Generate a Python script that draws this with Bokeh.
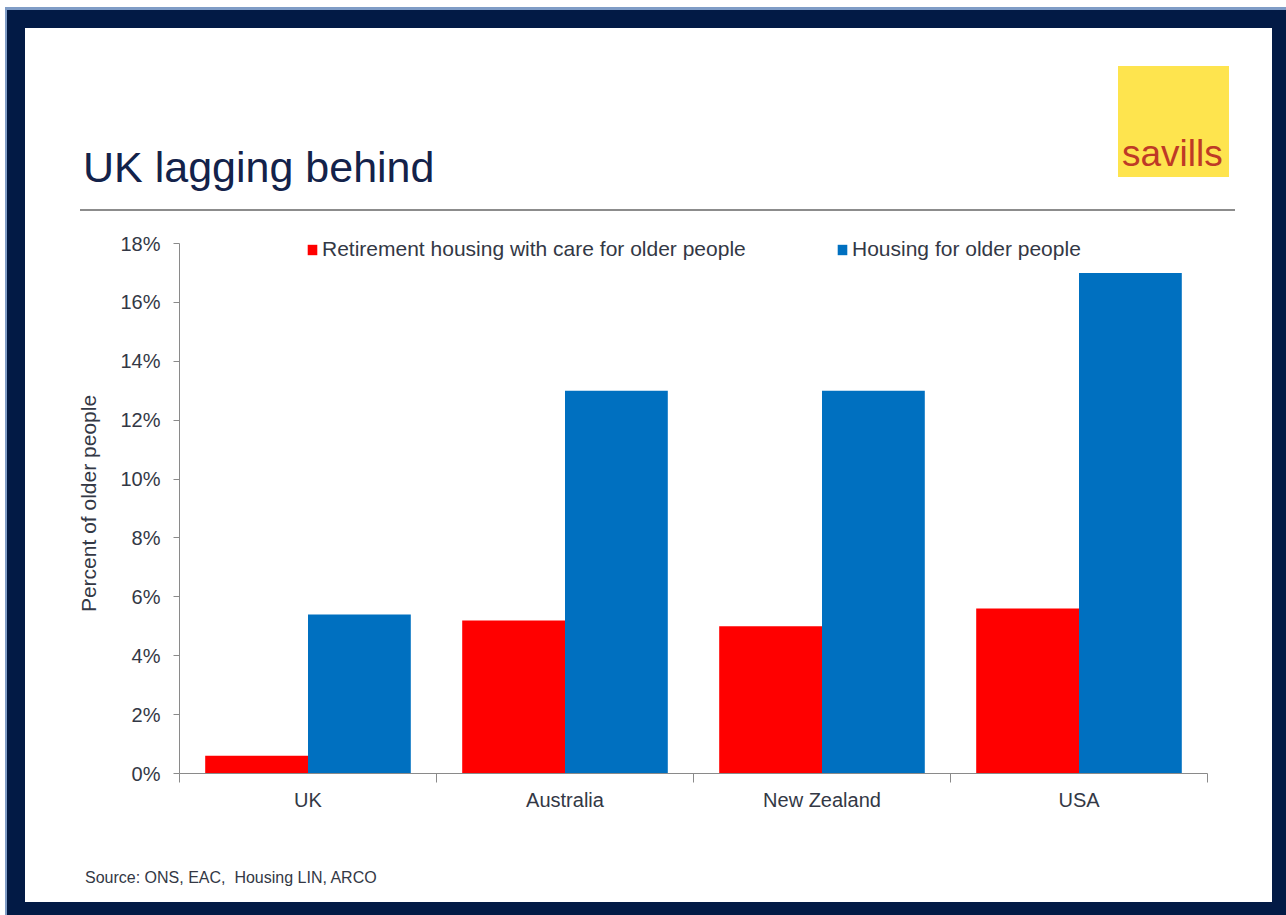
from bokeh.plotting import figure
from bokeh.models import (Range1d, FixedTicker, PrintfTickFormatter, LinearAxis,
                          Legend, LegendItem, ColumnDataSource, Div, Column, Row)
from bokeh.embed import file_html
from bokeh.resources import INLINE

# ---- data ----
categories = ["UK", "Australia", "New Zealand", "USA"]
care_share = [0.6, 5.2, 5.0, 5.6]          # Retirement housing with care for older people (%)
housing_share = [5.4, 13.0, 13.0, 17.0]    # Housing for older people (%)
y_ticks = [0, 2, 4, 6, 8, 10, 12, 14, 16, 18]
series_names = ["Retirement housing with care for older people", "Housing for older people"]
title_text = "UK lagging behind"
source_text = "Source: ONS, EAC,&nbsp; Housing LIN, ARCO"
logo_text = "savills"
y_label = "Percent of older people"

FONT = "Liberation Sans"
TXT = "#333845"
AXIS = "#8a8a8a"
RED = "#FF0000"
BLUE = "#0070C0"
NAVY = "#021A45"
LIGHT = "#7F9CC6"

W, H = 1286, 915
IN_W = 1247            # white slide area width
IN_H = 874             # white slide area height
HEAD_H = 187
FIG_H = 635
FOOT_H = IN_H - HEAD_H - FIG_H

# ---- chart ----
frame_top_pad = 10     # frame starts a bit above the 18% tick so the legend is not clipped
plot_h_units = 530.0   # pixel height of the 0..18 span
y_end = y_ticks[-1] * (plot_h_units + frame_top_pad) / plot_h_units

p = figure(width=IN_W, height=FIG_H, output_backend="svg", toolbar_location=None,
           x_range=Range1d(0, len(categories)), y_range=Range1d(y_ticks[0], y_end),
           x_axis_location=None, y_axis_location=None,
           min_border_left=154, min_border_right=65, min_border_top=18,
           min_border_bottom=77)
p.outline_line_color = None
p.xgrid.visible = False
p.ygrid.visible = False
p.border_fill_color = "white"
p.background_fill_color = "white"

n = len(categories)
bw = 0.4
src = ColumnDataSource(dict(
    cat=categories,
    x_care=[i + 0.5 - bw / 2 for i in range(n)],
    x_house=[i + 0.5 + bw / 2 for i in range(n)],
    care=care_share, house=housing_share))
r1 = p.vbar(x="x_care", top="care", width=bw, source=src, fill_color=RED, line_color=None)
r2 = p.vbar(x="x_house", top="house", width=bw, source=src, fill_color=BLUE, line_color=None)

yax = LinearAxis(ticker=FixedTicker(ticks=y_ticks, minor_ticks=[]),
                 formatter=PrintfTickFormatter(format="%d%%"),
                 bounds=(y_ticks[0], y_ticks[-1]))
yax.axis_line_color = AXIS
yax.major_tick_line_color = AXIS
yax.major_tick_out = 6
yax.major_tick_in = 0
yax.minor_tick_line_color = None
yax.major_label_standoff = 13
yax.major_label_text_font = FONT
yax.major_label_text_font_size = "20px"
yax.major_label_text_color = TXT
yax.axis_label = y_label
yax.axis_label_text_font = FONT
yax.axis_label_text_font_size = "21px"
yax.axis_label_text_font_style = "normal"
yax.axis_label_text_color = TXT
yax.axis_label_standoff = 17
p.add_layout(yax, "left")

xax = LinearAxis(ticker=FixedTicker(ticks=[i + 0.5 for i in range(n)],
                                    minor_ticks=list(range(n + 1))))
xax.major_label_overrides = {i + 0.5: c for i, c in enumerate(categories)}
xax.axis_line_color = AXIS
xax.major_tick_line_color = None
xax.major_tick_out = 0
xax.major_tick_in = 0
xax.minor_tick_line_color = AXIS
xax.minor_tick_out = 9
xax.minor_tick_in = 0
xax.major_label_standoff = 6
xax.major_label_text_font = FONT
xax.major_label_text_font_size = "20px"
xax.major_label_text_color = TXT
p.add_layout(xax, "below")

for r, name, loc in [(r1, series_names[0], (127, 512)), (r2, series_names[1], (657, 512))]:
    lg = Legend(items=[LegendItem(label=name, renderers=[r])], location=loc,
                orientation="horizontal", background_fill_alpha=0, border_line_color=None,
                padding=0, margin=0, glyph_width=12, glyph_height=13, label_standoff=4,
                label_text_font=FONT, label_text_font_size="21px", label_text_color=TXT)
    p.add_layout(lg)

# ---- slide decoration (HTML) ----
def box(l, t, w, h, color):
    return (f'<div style="position:absolute;left:{l}px;top:{t}px;width:{w}px;'
            f'height:{h}px;background:{color}"></div>')

def panel(w, h, inner, bg="#ffffff"):
    return Div(text=f'<div style="position:relative;width:{w}px;height:{h}px;'
                    f'background:{bg};overflow:hidden;margin:0;padding:0">{inner}</div>',
               width=w, height=h, styles={"margin": "0", "padding": "0"})

top_band = panel(W, 28, box(5, 7, W - 5, 3, LIGHT) + box(5, 7, 2, 21, LIGHT) + box(7, 10, W - 7, 18, NAVY))
bottom_band = panel(W, H - 28 - IN_H, box(5, 0, 2, 13, LIGHT) + box(7, 0, W - 7, 13, NAVY))
left_band = panel(25, IN_H, box(5, 0, 2, IN_H, LIGHT) + box(7, 0, 18, IN_H, NAVY))
right_band = panel(W - 25 - IN_W, IN_H, "", bg=NAVY)

title_html = (f'<div style="position:absolute;left:58px;top:118px;font-family:\'{FONT}\';'
              f'font-size:43px;line-height:43px;color:#13224A;white-space:nowrap">{title_text}</div>')
rule_html = box(55, 181, 1155, 2, "#8C8C8C")
logo_html = (box(1093, 38, 111, 111, "#FEE44E") +
             f'<div style="position:absolute;left:1097px;top:107px;font-family:\'{FONT}\';'
             f'font-size:37px;line-height:37px;color:#BE3A26;white-space:nowrap">{logo_text}</div>')
header = panel(IN_W, HEAD_H, title_html + rule_html + logo_html)

source_html = (f'<div style="position:absolute;left:60px;top:20px;font-family:\'{FONT}\';'
               f'font-size:16px;line-height:16px;color:{TXT};white-space:nowrap">{source_text}</div>')
footer = panel(IN_W, FOOT_H, source_html)

slide = Column(children=[header, p, footer], spacing=0)
middle = Row(children=[left_band, slide, right_band], spacing=0)
page = Column(children=[top_band, middle, bottom_band], spacing=0)

open("out.html", "w").write(file_html(page, INLINE))
